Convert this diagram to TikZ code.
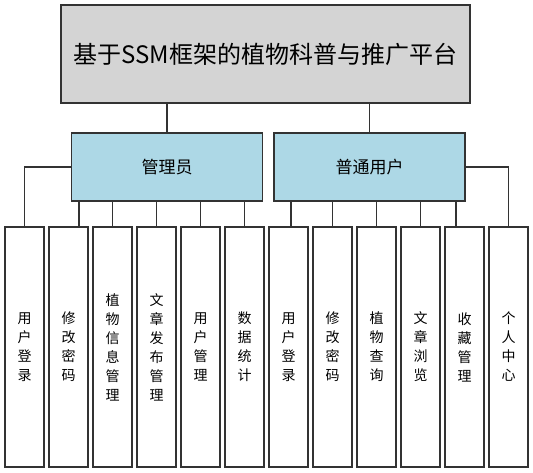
\documentclass[tikz,border=0pt]{standalone}
\usepackage{fontspec}
\setmainfont{Noto Sans CJK SC}
\begin{document}
\begin{tikzpicture}[x=1pt,y=-1pt,
  box/.style={draw=black!80, line width=1.1pt, rectangle, inner sep=0pt},
  topbox/.style={box, fill=black!17, minimum width=409pt, minimum height=98pt, font=\fontsize{24}{28}\selectfont},
  midbox/.style={box, fill=cyan!20!blue!10!white, fill={rgb,255:red,173;green,216;blue,230}, minimum width=191pt, minimum height=68pt, font=\fontsize{17}{20}\selectfont},
  leafbox/.style={box, fill=white, minimum width=39pt, minimum height=240pt, align=center, font=\fontsize{14}{19}\selectfont},
  conn/.style={draw=black!80, line width=1.1pt}]
\useasboundingbox (0,0) rectangle (533,473);
\node[topbox] (top) at (265.5,54) {基于SSM框架的植物科普与推广平台};
\node[midbox] (mgr) at (167,167) {管理员};
\node[midbox] (usr) at (369.5,167) {普通用户};
\foreach \i/\t in {1/{用\\户\\登\\录},2/{修\\改\\密\\码},3/{植\\物\\信\\息\\管\\理},4/{文\\章\\发\\布\\管\\理},5/{用\\户\\管\\理},6/{数\\据\\统\\计},7/{用\\户\\登\\录},8/{修\\改\\密\\码},9/{植\\物\\查\\询},10/{文\\章\\浏\\览},11/{收\\藏\\管\\理},12/{个\\人\\中\\心}}
  \node[leafbox] (l\i) at ({24.5+44*(\i-1)},347) {\t};
\draw[conn] (top.south -| mgr.north) -- (mgr.north);
\draw[conn] (top.south -| usr.north) -- (usr.north);
\draw[conn] (mgr.west) -| (l1.north);
\draw[conn] (usr.east) -| (l12.north);
\draw[conn] ([xshift=10.5pt]l2.north) -- ([xshift=10.5pt]l2.north |- mgr.south);
\foreach \i in {3,4,5,6} \draw[conn] (l\i.north) -- (l\i.north |- mgr.south);
\draw[conn] ([xshift=2.5pt]l7.north) -- ([xshift=2.5pt]l7.north |- usr.south);
\foreach \i in {8,9,10} \draw[conn] (l\i.north) -- (l\i.north |- usr.south);
\draw[conn] ([xshift=-8.5pt]l11.north) -- ([xshift=-8.5pt]l11.north |- usr.south);
\end{tikzpicture}
\end{document}
